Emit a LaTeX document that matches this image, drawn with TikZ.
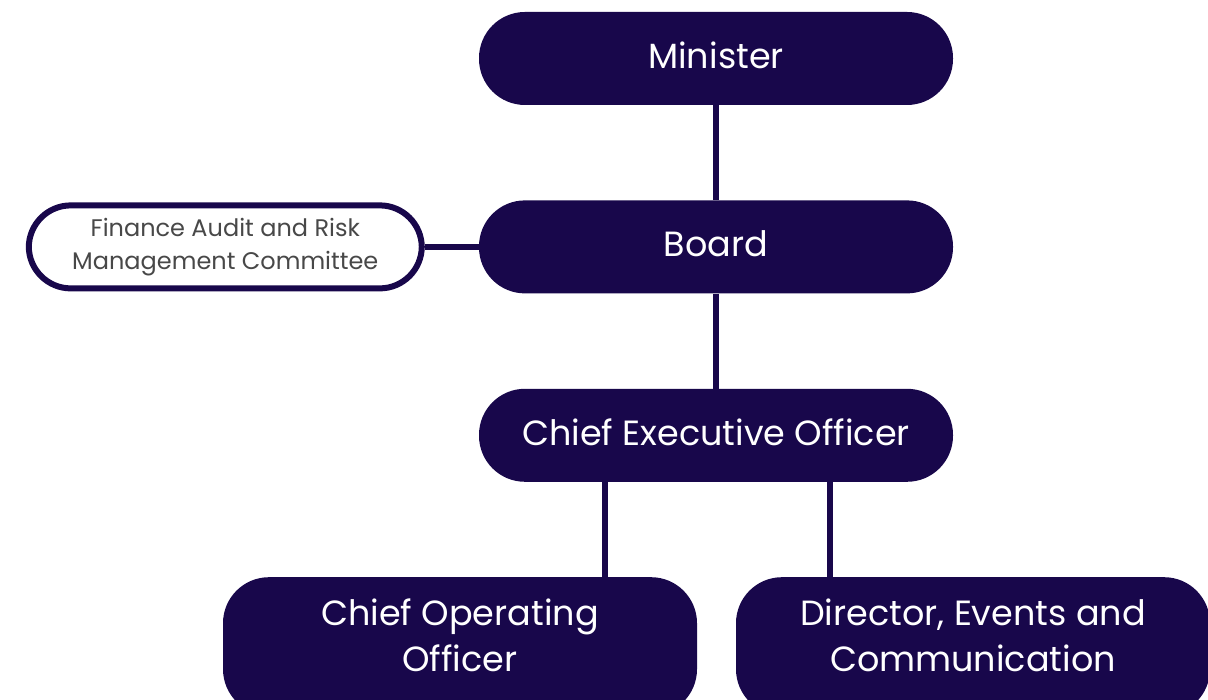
\documentclass[tikz,border=0pt]{standalone}
\usepackage{fontspec}
\setmainfont{Poppins}
\usetikzlibrary{positioning}
\definecolor{navy}{RGB}{24,7,75}
\definecolor{greytext}{RGB}{72,72,72}
\tikzset{
    block/.style = {draw=none, fill=navy, text=white, rectangle,
        rounded corners=46pt,
        minimum height=93pt,
        minimum width=474pt, text depth=6pt,
        align=center, font=\fontsize{35}{46}\selectfont},
    bigblock/.style = {block, minimum height=138pt, text depth=22pt},
    sidebox/.style = {draw=navy, line width=6pt, fill=white, text=greytext,
        rectangle, rounded corners=42pt,
        minimum height=83pt, minimum width=393pt,
        align=center, font=\fontsize{24}{33}\selectfont},
    link/.style = {draw=navy, line width=6pt},
}

\begin{document}
\begin{tikzpicture}[x=1pt, y=1pt, node distance=95pt]
	\clip (0,0) rectangle (1208,700);
	\fill [white] (0,0) rectangle (1208,700);

	% top of the chain
	\node [block] (minister) at (716,641.5) {Minister};
	\node [block, below=of minister] (board) {Board};
	\node [block, below=of board] (ceo) {Chief Executive Officer};

	% committee
	\node [sidebox, left=54pt of board] (farmc) {Finance Audit and Risk\\Management Committee};

	% reports
	\node [bigblock, below=of ceo, xshift=-256pt] (coo) {Chief Operating\\Officer};
	\node [bigblock, below=of ceo, xshift=257pt] (dec) {Director, Events and\\Communication};

	%%lines
	\draw [link] (minister) -- (board);
	\draw [link] (board) -- (ceo);
	\draw [link] (farmc) -- (board);
	\draw [link] ([xshift=-111pt]ceo.south) -- ([xshift=145pt]coo.north);
	\draw [link] ([xshift=114pt]ceo.south) -- ([xshift=-143pt]dec.north);
\end{tikzpicture}
\end{document}
